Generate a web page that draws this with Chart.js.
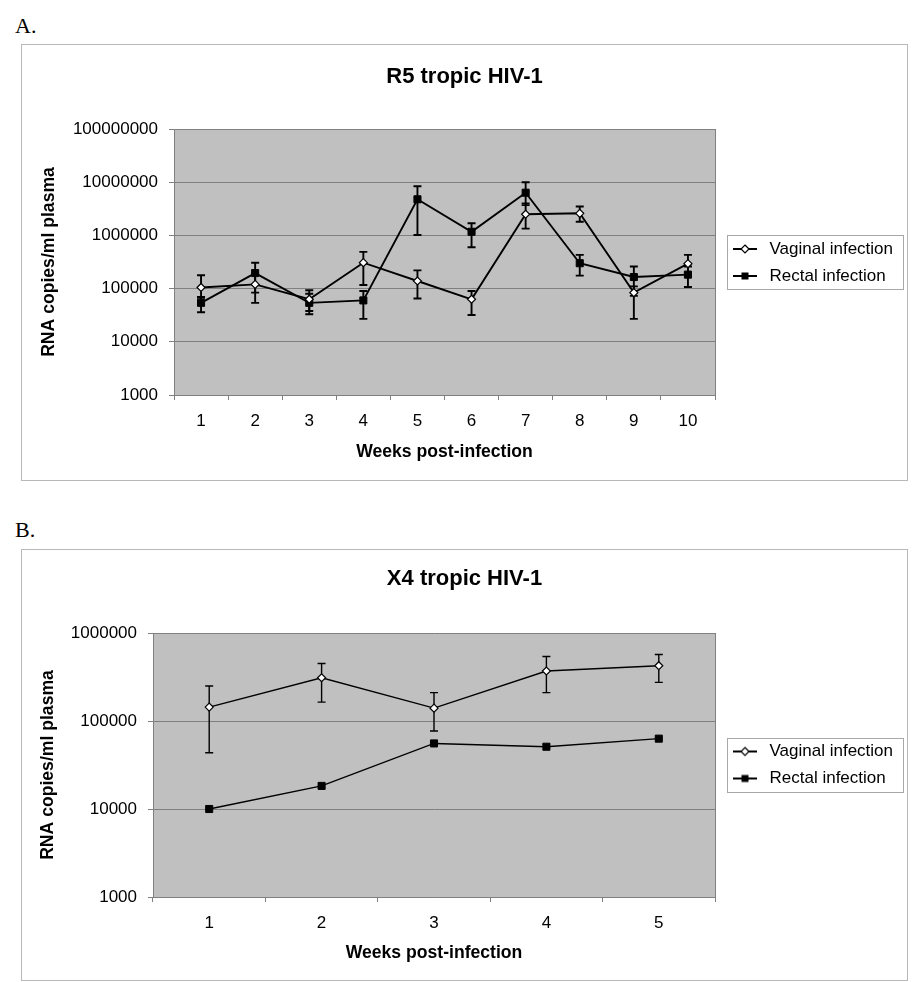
<!DOCTYPE html>
<html>
<head>
<meta charset="utf-8">
<script src="https://cdn.jsdelivr.net/npm/chart.js@4.4.0/dist/chart.umd.min.js"></script>
<style>
  body { margin: 0; background: #fff; width: 921px; height: 982px; position: relative; overflow: hidden; }
  .panel-label { position: absolute; left: 15px; font: 22px 'Times New Roman', 'Liberation Serif', serif; line-height: 22px; color: #000; }
  .box { position: absolute; left: 21px; width: 885px; border: 1px solid #b8b8b8; }
  .box canvas { display: block; }
</style>
</head>
<body>
<div class="panel-label" style="top:15px">A.</div>
<div class="box" style="top:44px;height:435px"><canvas id="chartA"></canvas></div>
<div class="panel-label" style="top:519px">B.</div>
<div class="box" style="top:549px;height:430px"><canvas id="chartB"></canvas></div>
<script>
// A. R5 tropic HIV-1
var weeksA = ['1', '2', '3', '4', '5', '6', '7', '8', '9', '10'];
var vaginalA = [105000, 120000, 63000, 307000, 139000, 63000, 2500000, 2600000, 84000, 294000];
var vaginalAHigh = [178000, 185000, 93000, 490000, 220000, 90000, 4000000, 3500000, 110000, 430000];
var vaginalALow = [67000, 54000, 33000, 117000, 65000, 32000, 1340000, 1800000, 27000, 200000];
var rectalA = [54000, 196000, 54000, 60000, 4770000, 1170000, 6350000, 300000, 165000, 183000];
var rectalAHigh = [70000, 307000, 80000, 90000, 8400000, 1690000, 10000000, 430000, 260000, 260000];
var rectalALow = [36000, 84000, 38000, 27000, 1020000, 600000, 3700000, 175000, 73000, 107000];
var ticksA = [1000, 10000, 100000, 1000000, 10000000, 100000000];

// B. X4 tropic HIV-1
var weeksB = ['1', '2', '3', '4', '5'];
var vaginalB = [144000, 310000, 140000, 370000, 425000];
var vaginalBHigh = [250000, 450000, 210000, 540000, 570000];
var vaginalBLow = [43500, 164000, 77000, 210000, 275000];
var rectalB = [10000, 18300, 55600, 51000, 63000];
var ticksB = [1000, 10000, 100000, 1000000];

Chart.defaults.font.family = "Arial, 'Liberation Sans', sans-serif";
Chart.defaults.color = '#000';

function makeIcon(kind) {
    var c = document.createElement('canvas');
    c.width = 36;
    c.height = 12;
    var g = c.getContext('2d');
    g.fillStyle = '#000';
    g.fillRect(8, 5, 24, 2);
    if (kind === 'diamond') {
        g.beginPath();
        g.moveTo(20, 2);
        g.lineTo(24, 6);
        g.lineTo(20, 10);
        g.lineTo(16, 6);
        g.closePath();
        g.fillStyle = '#fff';
        g.fill();
        g.strokeStyle = '#000';
        g.lineWidth = 1.2;
        g.stroke();
    } else {
        g.fillRect(16.5, 2.5, 7, 7);
    }
    return c;
}

// error bars drawn from errorHigh / errorLow on each dataset
var errorBars = {
    id: 'errorBars',
    beforeDatasetsDraw(chart) {
        var ctx = chart.ctx;
        var y = chart.scales.y;
        chart.data.datasets.forEach(function (ds, i) {
            if (!ds.errorHigh) return;
            var meta = chart.getDatasetMeta(i);
            ctx.save();
            ctx.strokeStyle = '#000';
            ctx.lineWidth = ds.errorWidth || 1.5;
            meta.data.forEach(function (pt, j) {
                var top = y.getPixelForValue(ds.errorHigh[j]);
                var bot = y.getPixelForValue(ds.errorLow[j]);
                ctx.beginPath();
                ctx.moveTo(pt.x, top);
                ctx.lineTo(pt.x, bot);
                ctx.moveTo(pt.x - 4, top);
                ctx.lineTo(pt.x + 4, top);
                ctx.moveTo(pt.x - 4, bot);
                ctx.lineTo(pt.x + 4, bot);
                ctx.stroke();
            });
            ctx.restore();
        });
    }
};

// grey plot area, right edge, legend frame, fixed legend width
var plotFrame = {
    id: 'plotFrame',
    beforeUpdate(chart) {
        var lg = chart.legend;
        if (lg && !lg._fixed) {
            var fit = lg.fit;
            lg.fit = function () {
                fit.call(this);
                this.width = 192;
            };
            lg._fixed = true;
        }
    },
    beforeDraw(chart) {
        var a = chart.chartArea;
        var ctx = chart.ctx;
        ctx.save();
        ctx.fillStyle = '#c0c0c0';
        ctx.fillRect(a.left, a.top, a.right - a.left, a.bottom - a.top);
        ctx.restore();
    },
    afterDraw(chart) {
        var a = chart.chartArea;
        var ctx = chart.ctx;
        ctx.save();
        ctx.strokeStyle = '#808080';
        ctx.lineWidth = 1;
        ctx.beginPath();
        ctx.moveTo(Math.round(a.right) + 0.5, a.top);
        ctx.lineTo(Math.round(a.right) + 0.5, a.bottom);
        ctx.stroke();
        var boxes = chart.legend.legendHitBoxes;
        if (boxes && boxes.length) {
            var first = boxes[0];
            var last = boxes[boxes.length - 1];
            var top = Math.round(first.top + first.height / 2 - 14) + 0.5;
            var bot = Math.round(last.top + last.height / 2 + 13) + 0.5;
            var left = Math.round(a.right + 12) + 0.5;
            var right = chart.width - 3.5;
            ctx.strokeStyle = '#a8a8a8';
            ctx.strokeRect(left, top, right - left, bot - top);
        }
        ctx.restore();
    }
};

function drawChart(id, opts) {
    var ctx = document.getElementById(id);
    return new Chart(ctx, {
        type: 'line',
        data: {
            labels: opts.labels,
            datasets: opts.datasets
        },
        options: {
            responsive: true,
            maintainAspectRatio: false,
            animation: false,
            layout: { padding: 0 },
            plugins: {
                title: {
                    display: true,
                    text: opts.title,
                    font: { size: 22, weight: 'bold' },
                    color: '#000',
                    padding: { top: opts.titleTop, bottom: opts.titleBottom }
                },
                legend: {
                    position: 'right',
                    labels: {
                        usePointStyle: true,
                        pointStyleWidth: 36,
                        padding: 10,
                        font: { size: 17 },
                        color: '#000',
                        generateLabels: function (chart) {
                            return chart.data.datasets.map(function (ds, i) {
                                return {
                                    text: ds.label,
                                    pointStyle: ds.legendIcon,
                                    fillStyle: '#000',
                                    strokeStyle: '#000',
                                    lineWidth: 0,
                                    hidden: false,
                                    datasetIndex: i,
                                    fontColor: '#000'
                                };
                            });
                        }
                    }
                },
                tooltip: { enabled: false }
            },
            scales: {
                x: {
                    offset: true,
                    afterFit: function (s) { s.height = opts.xHeight; },
                    ticks: { color: '#000', font: { size: 17 }, padding: opts.xTickPad },
                    grid: { offset: true, drawOnChartArea: false, tickLength: 5, color: '#808080' },
                    border: { color: '#808080' },
                    title: {
                        display: true,
                        text: 'Weeks post-infection',
                        font: { size: 17.6, weight: 'bold' },
                        color: '#000',
                        padding: { top: 0, bottom: opts.xTitlePad }
                    }
                },
                y: {
                    type: 'logarithmic',
                    min: opts.ticks[0],
                    max: opts.ticks[opts.ticks.length - 1],
                    afterBuildTicks: function (s) {
                        s.ticks = opts.ticks.map(function (v) { return { value: v }; });
                    },
                    afterFit: function (s) { s.width = opts.yWidth; },
                    ticks: {
                        color: '#000',
                        font: { size: 17 },
                        padding: 11,
                        callback: function (v) { return String(v); }
                    },
                    grid: { color: '#808080', tickColor: '#808080', tickLength: 5, lineWidth: 1 },
                    border: { color: '#808080' },
                    title: {
                        display: true,
                        text: 'RNA copies/ml plasma',
                        font: { size: 17.6, weight: 'bold' },
                        color: '#000',
                        padding: { top: opts.yTitlePad, bottom: 0 }
                    }
                }
            }
        },
        plugins: [plotFrame, errorBars]
    });
}

var vaginalIcon = makeIcon('diamond');
var rectalIcon = makeIcon('square');

function vaginalSet(data, high, low, lineW) {
    return {
        label: 'Vaginal infection',
        data: data,
        errorHigh: high,
        errorLow: low,
        errorWidth: lineW,
        legendIcon: vaginalIcon,
        borderColor: '#000',
        borderWidth: lineW,
        pointStyle: 'rectRot',
        pointRadius: 4,
        pointBackgroundColor: '#fff',
        pointBorderColor: '#000',
        pointBorderWidth: 1.2
    };
}

function rectalSet(data, high, low, lineW) {
    return {
        label: 'Rectal infection',
        data: data,
        errorHigh: high,
        errorLow: low,
        errorWidth: lineW,
        legendIcon: rectalIcon,
        borderColor: '#000',
        borderWidth: lineW,
        pointStyle: 'rect',
        pointRadius: 5,
        pointBackgroundColor: '#000',
        pointBorderColor: '#000',
        pointBorderWidth: 1
    };
}

drawChart('chartA', {
    title: 'R5 tropic HIV-1',
    labels: weeksA,
    ticks: ticksA,
    titleTop: 18.8,
    titleBottom: 38.8,
    yWidth: 152,
    xHeight: 85,
    xTickPad: 11.5,
    xTitlePad: 17.4,
    yTitlePad: 16.4,
    datasets: [
        vaginalSet(vaginalA, vaginalAHigh, vaginalALow, 1.9),
        rectalSet(rectalA, rectalAHigh, rectalALow, 1.9)
    ]
});

drawChart('chartB', {
    title: 'X4 tropic HIV-1',
    labels: weeksB,
    ticks: ticksB,
    titleTop: 15.8,
    titleBottom: 40.8,
    yWidth: 131,
    xHeight: 83,
    xTickPad: 11,
    xTitlePad: 16.4,
    yTitlePad: 15.4,
    datasets: [
        vaginalSet(vaginalB, vaginalBHigh, vaginalBLow, 1.4),
        rectalSet(rectalB, null, null, 1.4)
    ]
});
</script>
</body>
</html>
